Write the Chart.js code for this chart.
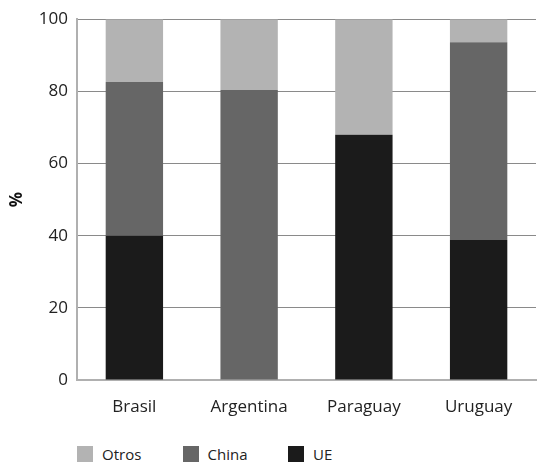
<!DOCTYPE html>
<html>
<head>
<meta charset="utf-8">
<script src="https://cdn.jsdelivr.net/npm/chart.js@4/dist/chart.umd.min.js"></script>
<style>
  html, body { margin: 0; padding: 0; background: #fff; }
  #wrap { position: relative; width: 538px; height: 465px; }
  #chart { position: absolute; left: 0; top: 0; }
  #legend { position: absolute; left: 77px; top: 444px; display: flex; font-family: 'Open Sans', sans-serif; font-size: 15px; color: #222; }
  #legend .item { display: flex; align-items: center; width: 105.5px; }
  #legend .box { width: 16px; height: 16px; margin-right: 9px; }
</style>
</head>
<body>
<div id="wrap">
  <canvas id="chart" width="538" height="432"></canvas>
  <div id="legend"></div>
</div>
<script>
// categories and shares (%)
const countries = ['Brasil', 'Argentina', 'Paraguay', 'Uruguay'];
const ue = [40, 0, 68, 38.8];
const china = [42.6, 80.4, 0, 54.8];
const otros = [17.4, 19.6, 32, 6.4];

const font = { family: "'Open Sans', sans-serif", size: 17 };

const chart = new Chart(document.getElementById('chart'), {
  type: 'bar',
  data: {
    labels: countries,
    datasets: [
      { label: 'UE', data: ue, backgroundColor: '#1b1b1b' },
      { label: 'China', data: china, backgroundColor: '#666666' },
      { label: 'Otros', data: otros, backgroundColor: '#b3b3b3' },
    ],
  },
  options: {
    responsive: false,
    animation: false,
    layout: { padding: { top: 8, right: 2, bottom: 0, left: 0 } },
    datasets: { bar: { categoryPercentage: 0.5, barPercentage: 1 } },
    plugins: { legend: { display: false }, tooltip: { enabled: false } },
    scales: {
      x: {
        stacked: true,
        grid: { display: false },
        border: { color: '#b0b0b0', width: 2 },
        ticks: { font: font, color: '#222', padding: 9 },
        afterFit: (s) => { s.height = 52; },
      },
      y: {
        stacked: true,
        min: 0,
        max: 100,
        ticks: { stepSize: 20, font: font, color: '#222', padding: 9 },
        grid: { color: '#8a8a8a', drawTicks: false },
        border: { color: '#b0b0b0', width: 2 },
        title: { display: true, text: '%', font: { family: "'Open Sans', sans-serif", size: 17, weight: 'bold' }, color: '#111', padding: { top: 7, bottom: 0 } },
        afterFit: (s) => { s.width = 77; },
      },
    },
  },
});

// legend: Otros, China, UE (top of stack first)
const legend = document.getElementById('legend');
chart.data.datasets.slice().reverse().forEach((ds) => {
  const item = document.createElement('div');
  item.className = 'item';
  item.innerHTML = '<span class="box" style="background:' + ds.backgroundColor + '"></span><span>' + ds.label + '</span>';
  legend.appendChild(item);
});
</script>
</body>
</html>
